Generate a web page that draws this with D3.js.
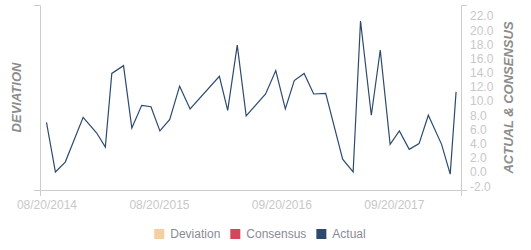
<!DOCTYPE html>
<html>
<head>
<meta charset="utf-8">
<script src="https://cdn.jsdelivr.net/npm/d3@7"></script>
<style>
  html, body { margin: 0; padding: 0; background: #fff; }
  svg { display: block; font-family: "Liberation Sans", Arial, sans-serif; }
</style>
</head>
<body>
<svg id="chart" width="531" height="250"></svg>
<script>
// ---- data ----
const dates = ["2014-08-20","2014-09-18","2014-10-20","2014-12-17","2015-01-30","2015-02-27","2015-03-20","2015-04-27","2015-05-24","2015-06-25","2015-07-25","2015-08-23","2015-09-24","2015-10-26","2015-11-29","2016-03-03","2016-03-30","2016-04-30","2016-05-29","2016-07-31","2016-09-02","2016-10-03","2016-11-01","2016-12-03","2017-01-03","2017-02-11","2017-04-07","2017-05-11","2017-06-04","2017-07-09","2017-08-07","2017-09-08","2017-10-08","2017-11-09","2017-12-11","2018-01-10","2018-02-22","2018-03-22","2018-04-10"];
const actual = [7.0, 0.0, 1.4, 7.7, 5.5, 3.5, 13.9, 15.0, 6.2, 9.4, 9.2, 5.8, 7.4, 12.1, 8.9, 13.5, 8.7, 17.9, 7.9, 11.0, 14.3, 8.9, 12.9, 13.9, 11.0, 11.1, 1.8, 0.0, 21.3, 8.0, 17.2, 3.9, 5.8, 3.2, 4.0, 8.0, 3.9, -0.3, 11.3];
const xTickDates = ["2014-08-20","2015-08-20","2016-09-20","2017-09-20"];
const yTicks = [-2, 0, 2, 4, 6, 8, 10, 12, 14, 16, 18, 20, 22];
const xDomain = ["2014-07-30","2018-04-26"];
const yDomain = [-2.54, 23.55];
const legendNames = ["Deviation", "Consensus", "Actual"];
const legendColors = ["#f5cfa0", "#d4465a", "#2d4a6e"];

(function () {
// ---- layout ----
const mLeft = 40, mRight = 461, mTop = 5, mBottom = 190;
const parse = d3.timeParse("%Y-%m-%d");
const fmt = d3.timeFormat("%m/%d/%Y");

const svg = d3.select("#chart");
const x = d3.scaleTime().domain(xDomain.map(parse)).range([mLeft, mRight]);
const y = d3.scaleLinear().domain(yDomain).range([mBottom, mTop]);

const axisColor = "#cccccc";
const labelColor = "#c8c8c8";

// left axis (no ticks)
const gl = svg.append("g").attr("transform", `translate(${mLeft},0)`)
  .call(d3.axisLeft(y).tickValues([]).tickSizeOuter(6));
// right axis
const gr = svg.append("g").attr("transform", `translate(${mRight},0)`)
  .call(d3.axisRight(y).tickValues(yTicks).tickSizeInner(0).tickSizeOuter(6).tickPadding(9)
    .tickFormat(d => d.toFixed(1)));
// bottom axis
const gb = svg.append("g").attr("transform", `translate(0,${mBottom})`)
  .call(d3.axisBottom(x).tickValues(xTickDates.map(parse)).tickSizeInner(0).tickSizeOuter(6).tickPadding(10)
    .tickFormat(fmt));

[gl, gr, gb].forEach(g => {
  g.select(".domain").attr("stroke", axisColor).attr("stroke-width", 1);
  g.selectAll(".tick line").remove();
  g.selectAll("text").attr("fill", labelColor).attr("font-size", 12)
    .attr("font-family", "'Liberation Sans', Arial, sans-serif");
});

// axis titles
svg.append("text")
  .attr("transform", `translate(21,${(mTop + mBottom) / 2}) rotate(-90)`)
  .attr("text-anchor", "middle")
  .attr("font-size", 13).attr("font-style", "italic").attr("font-weight", "bold")
  .attr("fill", "#8c8c8c")
  .text("DEVIATION");
svg.append("text")
  .attr("transform", `translate(513,${(mTop + mBottom) / 2}) rotate(-90)`)
  .attr("text-anchor", "middle")
  .attr("font-size", 13).attr("font-style", "italic").attr("font-weight", "bold")
  .attr("fill", "#8c8c8c")
  .text("ACTUAL & CONSENSUS");

// actual line
const pts = dates.map((d, i) => ({ date: parse(d), v: actual[i] }));
svg.append("path")
  .datum(pts)
  .attr("fill", "none")
  .attr("stroke", legendColors[2])
  .attr("stroke-width", 1.2)
  .attr("stroke-linejoin", "miter")
  .attr("d", d3.line().x(d => x(d.date)).y(d => y(d.v)));

// legend
const lg = svg.append("g");
let cx = 0;
legendNames.forEach((name, i) => {
  const item = lg.append("g").attr("transform", `translate(${cx},0)`);
  item.append("rect").attr("x", 0).attr("y", -5).attr("width", 10).attr("height", 10)
    .attr("fill", legendColors[i]);
  const t = item.append("text").attr("x", 16).attr("y", 4.3)
    .attr("font-size", 12).attr("fill", "#8a8a96").text(name);
  cx += 16 + t.node().getComputedTextLength() + 10;
});
const totalW = cx - 10;
lg.attr("transform", `translate(${260 - totalW / 2},234)`);
})();
</script>
</body>
</html>
